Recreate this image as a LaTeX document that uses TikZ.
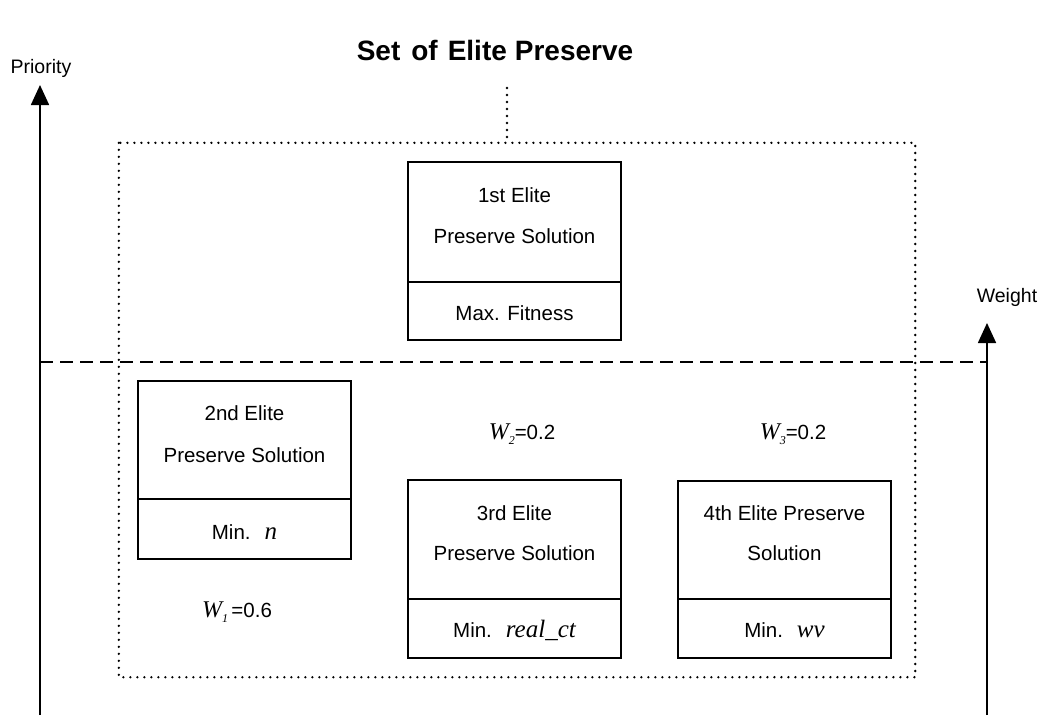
\documentclass[tikz,border=0pt]{standalone}
\usepackage{fontspec}
\setmainfont{Liberation Sans}
\newfontfamily\tnr{Liberation Serif}
\usetikzlibrary{arrows.meta}
\newcommand{\bodyfont}{\fontsize{20.5}{24}\selectfont}
\newcommand{\itvar}[1]{{\tnr\itshape\fontsize{25}{28}\selectfont #1}}
\newcommand{\wsub}[1]{{\tnr\itshape\fontsize{24}{27}\selectfont W}\raisebox{-5pt}{\tnr\itshape\fontsize{12}{14}\selectfont #1}}
\begin{document}
\begin{tikzpicture}[x=1pt,y=-1pt,
  ebox/.style={draw,line width=1.7pt,minimum width=213pt,inner sep=0pt},
  txt/.style={inner sep=0pt,anchor=base,font=\bodyfont},
  axislabel/.style={inner sep=0pt,anchor=base,font=\fontsize{19.5}{23}\selectfont},
  dotline/.style={line width=2.6pt,line cap=round,dash pattern=on 0pt off 7pt},
  dashline/.style={line width=1.6pt,dash pattern=on 13pt off 7pt},
  divider/.style={line width=1.7pt},
  axis/.style={line width=1.7pt,-{Triangle[length=20pt,width=18pt]}}]
\useasboundingbox (0,0) rectangle (1055,715);

% title and axis labels
\node[inner sep=0pt,anchor=base,font=\bfseries\fontsize{28}{32}\selectfont] (title) at (495,60)
  {Set\hspace{11pt}of\hspace{10pt}Elite\hspace{8pt}Preserve};
\node[axislabel] (prio) at (41,73) {Priority};
\node[axislabel] (wgt) at (1007,302) {Weight};

% axes
\coordinate (la0) at (40,715);
\coordinate (la1) at (40,85);
\coordinate (ra0) at (987,715);
\coordinate (ra1) at (987,323);
\draw[axis] (la0) -- (la1);
\draw[axis] (ra0) -- (ra1);

% dashed separator
\coordinate (dl) at (40,362);
\coordinate (dr) at (987,362);
\draw[dashline] (dl) -- (dr);

% dotted set
\node[inner sep=0pt,minimum width=796pt,minimum height=534pt] (set) at (517,410) {};
\draw[dotline] (set.north west) rectangle (set.south east);
\coordinate (vt) at (507,88);
\coordinate (vb) at (507,143);
\draw[dotline] (vt) -- (vb);

% box 1
\node[ebox,minimum height=178pt] (b1) at (514.5,251) {};
\draw[divider] (b1.west |- 0,282) -- (b1.east |- 0,282);
\node[txt] (b1a) at (514.5,202) {1st Elite};
\node[txt] (b1b) at (514.5,243) {Preserve Solution};
\node[txt] (b1c) at (514.5,320) {Max. Fitness};

% box 2
\node[ebox,minimum height=178pt] (b2) at (244.5,470) {};
\draw[divider] (b2.west |- 0,499) -- (b2.east |- 0,499);
\node[txt] (b2a) at (244.5,420) {2nd Elite};
\node[txt] (b2b) at (244.5,462) {Preserve Solution};
\node[txt] (b2c) at (244.5,539) {Min.\hspace{14pt}\itvar{n}};

% box 3
\node[ebox,minimum height=178pt] (b3) at (514.5,569) {};
\draw[divider] (b3.west |- 0,599) -- (b3.east |- 0,599);
\node[txt] (b3a) at (514.5,520) {3rd Elite};
\node[txt] (b3b) at (514.5,560) {Preserve Solution};
\node[txt] (b3c) at (514.5,637) {Min.\hspace{14pt}\itvar{real\_ct}};

% box 4
\node[ebox,minimum height=177pt] (b4) at (784.5,569.5) {};
\draw[divider] (b4.west |- 0,599) -- (b4.east |- 0,599);
\node[txt] (b4a) at (784.5,520) {4th Elite Preserve};
\node[txt] (b4b) at (784.5,560) {Solution};
\node[txt] (b4c) at (784.5,637) {Min.\hspace{14pt}\itvar{wv}};

% weights
\node[txt] (w1) at (237,617) {\wsub{1}\,=0.6};
\node[txt] (w2) at (522,439) {\wsub{2}=0.2};
\node[txt] (w3) at (793,439) {\wsub{3}=0.2};
\end{tikzpicture}
\end{document}
